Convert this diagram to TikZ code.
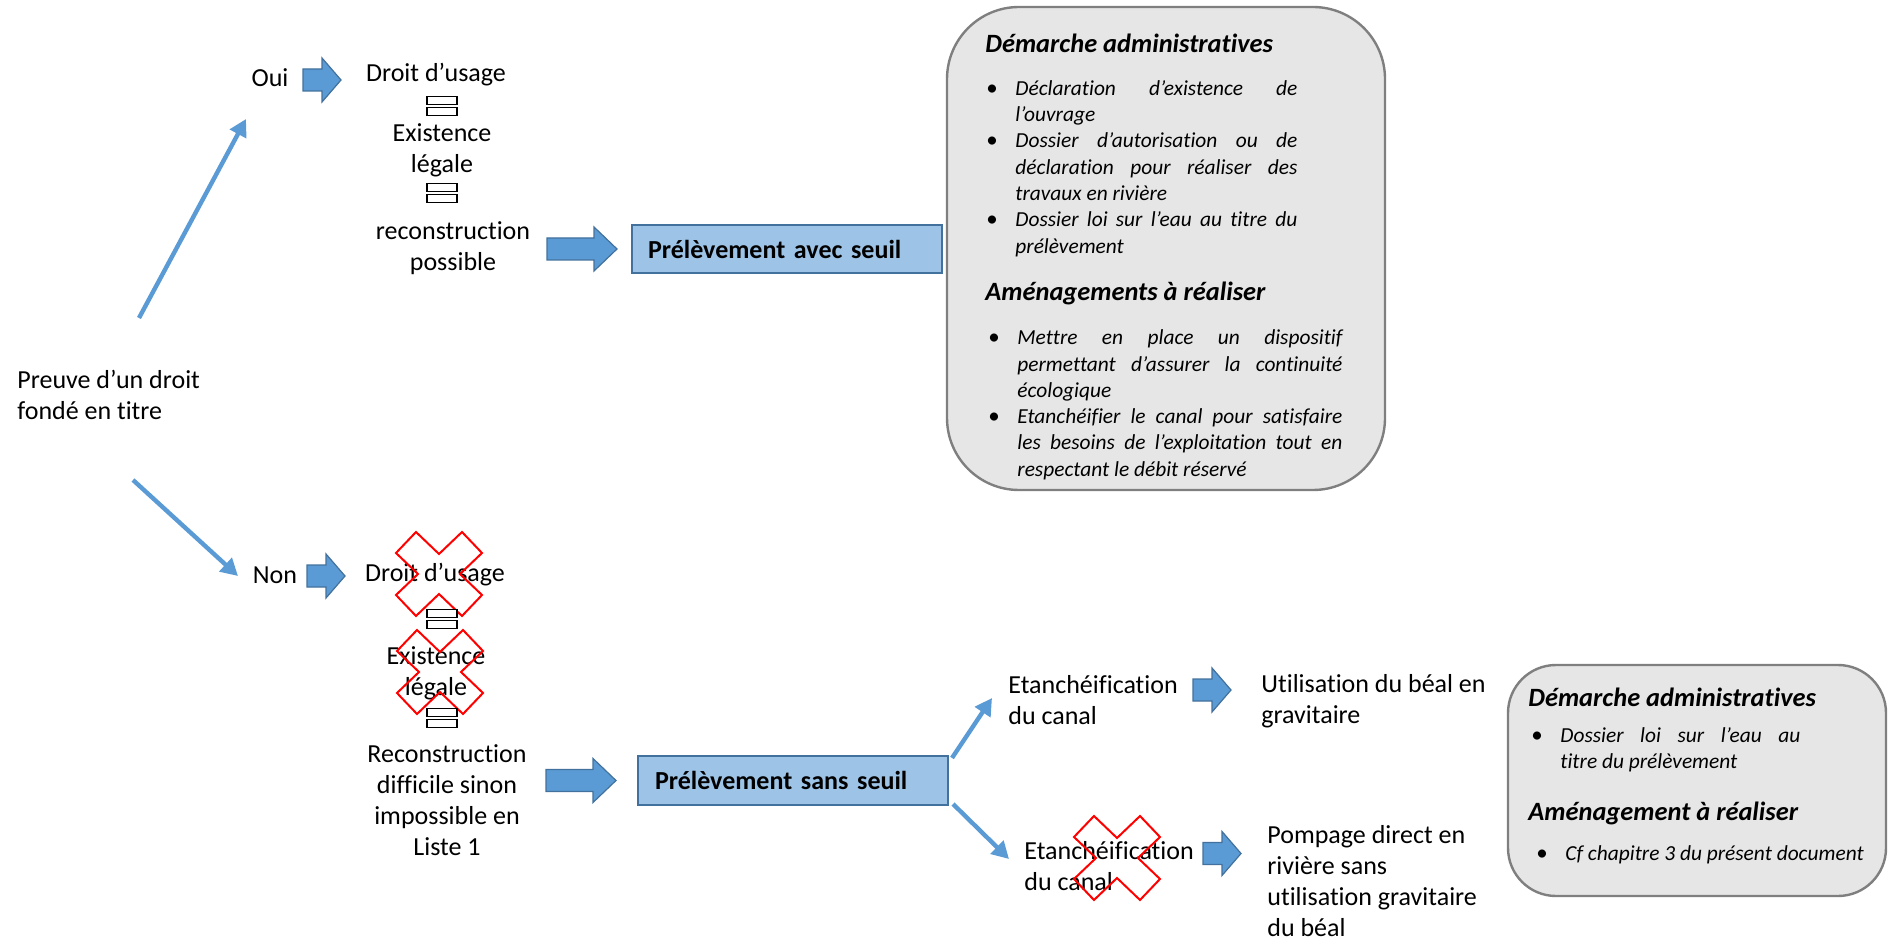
\documentclass[tikz,border=0pt]{standalone}
\usepackage{fontspec}
\setmainfont{Carlito}[Ligatures=NoCommon]
\usetikzlibrary{arrows.meta}

\definecolor{bleutrait}{HTML}{5B9BD5}
\definecolor{bleubord}{HTML}{41719C}
\definecolor{bleuclair}{HTML}{9DC3E6}
\definecolor{grisfond}{HTML}{E7E6E6}
\definecolor{grisbord}{HTML}{7F7F7F}

\newcommand{\puce}[1]{\noindent\hangindent=14.5pt\hangafter=1\makebox[14.5pt][l]{\upshape\fontsize{11.5pt}{13pt}\selectfont\textbullet}#1\par}

\begin{document}
\begin{tikzpicture}[x=0.5pt, y=-0.5pt,
      texte/.style={font=\fontsize{13pt}{15.5pt}\selectfont, inner sep=0pt},
      cadre/.style={draw=grisbord, line width=1.2pt, fill=grisfond},
      boite/.style={draw=bleubord, line width=0.8pt, fill=bleuclair,
        font=\fontsize{13pt}{15.5pt}\selectfont\bfseries, text width=139pt,
        inner xsep=8pt, inner ysep=0pt, align=left},
      titre/.style={font=\fontsize{13.2pt}{15pt}\selectfont\bfseries\itshape, inner sep=0pt, anchor=west},
      liste/.style={font=\fontsize{10.7pt}{13.15pt}\selectfont\itshape, inner sep=0pt,
        anchor=north west, align=justify},
      lien/.style={draw=bleutrait, line width=2.2pt, -{Triangle[length=8.5pt,width=9pt]}},
      bloc/.style={draw=bleubord, line width=0.6pt, fill=bleutrait},
      barre/.style={draw=red, line width=1pt},
      signe/.style={draw=black, line width=0.7pt, fill=white},
      fleche/.pic={\draw[bloc] (0,-11) -- (19,-11) -- (19,-22) -- (38,0) -- (19,22) -- (19,11) -- (0,11) -- cycle;},
      grandefleche/.pic={\draw[bloc] (0,-11) -- (47,-11) -- (47,-22) -- (70,0) -- (47,22) -- (47,11) -- (0,11) -- cycle;},
      croix/.pic={\draw[barre] (0,-20) -- (23,-42) -- (43,-21) -- (21,0) -- (43,21) -- (23,42) -- (0,20)
        -- (-23,42) -- (-43,21) -- (-21,0) -- (-43,-21) -- (-23,-42) -- cycle;},
      egal/.pic={\draw[signe] (-15,-9.5) rectangle (15,-1.5); \draw[signe] (-15,1.5) rectangle (15,9.5);}]

   \useasboundingbox (0,0) rectangle (1889,940);

   \node[texte, anchor=west, align=left] (preuve) at (17,395) {Preuve d’un droit\\fondé en titre};
   \node[texte] (oui) at (270,78) {Oui};
   \node[texte] (non) at (275,575) {Non};

   \coordinate (oui-a) at (139,318);
   \coordinate (oui-b) at (246,119);
   \coordinate (non-a) at (133,480);
   \coordinate (non-b) at (238,576);
   \draw[lien] (oui-a) -- (oui-b);
   \draw[lien] (non-a) -- (non-b);

   % branche oui
   \pic at (303,80) {fleche};
   \node[texte] (droit1) at (436,75) {Droit d’usage};
   \pic at (442,106) {egal};
   \node[texte, align=center] (exist1) at (442,150) {Existence\\légale};
   \pic at (442,193) {egal};
   \node[texte, align=center] (recon1) at (453,248) {reconstruction\\possible};
   \pic at (547,249) {grandefleche};
   \node[boite, minimum width=155pt, minimum height=24pt] (avecseuil) at (787,249) {Prélèvement avec seuil};

   \node[cadre, rounded corners=36pt, minimum width=219pt, minimum height=241.5pt] (demarche1) at (1166,248.5) {};
   \node[titre] (titre1) at (985,43) {Démarche administratives};
   \node[liste, text width=155.5pt] (liste1) at (986,80)
      {\puce{Déclaration d’existence de\linebreak l’ouvrage}%
       \puce{Dossier d’autorisation ou de\linebreak déclaration pour réaliser des\linebreak travaux en rivière}%
       \puce{Dossier loi sur l’eau au titre du\linebreak prélèvement}};
   \node[titre] (titre2) at (985,293) {Aménagements à réaliser};
   \node[liste, text width=177pt] (liste2) at (988,329.5)
      {\puce{Mettre en place un dispositif\linebreak permettant d’assurer la continuité\linebreak écologique}%
       \puce{Etanchéifier le canal pour satisfaire\linebreak les besoins de l’exploitation tout en\linebreak respectant le débit réservé}};

   % branche non
   \pic at (307,576) {fleche};
   \node[texte] (droit2) at (435,575) {Droit d’usage};
   \pic at (439,574) {croix};
   \pic at (442,619) {egal};
   \node[texte, align=center] (exist2) at (436,673) {Existence\\légale};
   \pic at (440,672) {croix};
   \pic at (442,718) {egal};
   \node[texte, align=center] (recon2) at (447,800) {Reconstruction\\difficile sinon\\impossible en\\Liste 1};
   \pic at (546,780.5) {grandefleche};
   \node[boite, minimum width=155pt, minimum height=24.5pt, inner xsep=8.5pt, text width=138pt] (sansseuil) at (793,780.5) {Prélèvement sans seuil};

   \coordinate (etan-a) at (952,758);
   \coordinate (etan-b) at (992,698);
   \coordinate (pomp-a) at (953,804);
   \coordinate (pomp-b) at (1009,859);
   \draw[lien] (etan-a) -- (etan-b);
   \draw[lien] (pomp-a) -- (pomp-b);

   \node[texte, anchor=west, align=left] (etan1) at (1008,700) {Etanchéification\\du canal};
   \pic at (1193,690) {fleche};
   \node[texte, anchor=west, align=left] (gravit) at (1261,701) {Utilisation du béal en\\gravitaire};
   \node[texte, anchor=west, align=left] (etan2) at (1024,866) {Etanchéification\\du canal};
   \pic at (1117,858) {croix};
   \pic at (1203,853.5) {fleche};
   \node[texte, anchor=west, align=left] (pompage) at (1267,881.5) {Pompage direct en\\rivière sans\\utilisation gravitaire\\du béal};

   \node[cadre, rounded corners=24pt, minimum width=189pt, minimum height=115.5pt] (demarche2) at (1697,780.5) {};
   \node[titre] (titre3) at (1528,697) {Démarche administratives};
   \node[liste, text width=134.5pt] (liste3) at (1531,727)
      {\puce{Dossier loi sur l’eau au\linebreak titre du prélèvement}};
   \node[titre] (titre4) at (1528,813) {Aménagement à réaliser};
   \node[liste, text width=175pt] (liste4) at (1536,845)
      {\puce{Cf chapitre 3 du présent document}};
 \end{tikzpicture}
\end{document}
